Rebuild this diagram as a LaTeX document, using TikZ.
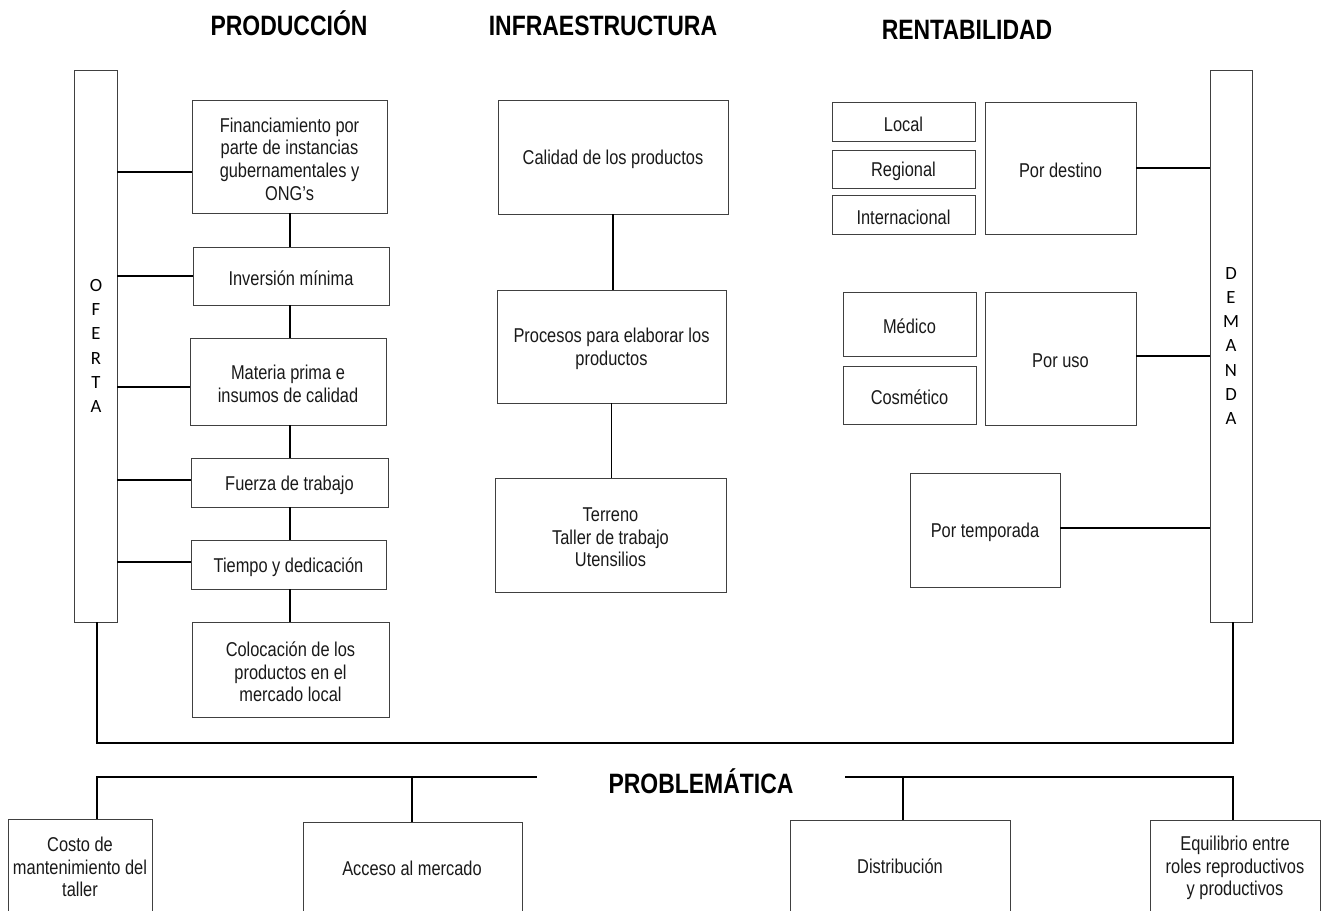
\documentclass[tikz,border=0pt]{standalone}
\usepackage{fontspec}
\setmainfont{Liberation Sans}[FakeStretch=0.82]
\newfontfamily\calib{Carlito}
\usetikzlibrary{calc}
\newcommand\bx[6]{\node[box,minimum width={(#4-#2)*0.75pt},minimum height={(#5-#3)*0.75pt}]
  (#1) at ({(#2+#4)/2},{(#3+#5)/2}) {};
  \node[txt,yshift=-1.8pt] (#1t) at (#1.center) {#6};}
\begin{document}
\begin{tikzpicture}[x=0.75pt,y=-0.75pt,
  box/.style={draw=black!75,line width=0.6pt,inner sep=0pt},
  txt/.style={inner sep=0pt,align=center,font=\fontsize{15}{17}\selectfont,text=black!90},
  conn/.style={draw=black,line width=1.4pt},
  ttl/.style={font=\fontsize{21}{24}\selectfont\bfseries,inner sep=0pt,anchor=base},
  vert/.style={font=\calib\fontsize{14}{18.2}\selectfont,align=center,inner sep=0pt}]
\useasboundingbox (0,0) rectangle (1322,911);
\clip (0,0) rectangle (1322,911);
% titles
\node[ttl] (tprod) at (289,35) {PRODUCCIÓN};
\node[ttl] (tinf) at (603,35) {INFRAESTRUCTURA};
\node[ttl] (tren) at (967,39) {RENTABILIDAD};
% side bars
\bx{of}{74}{70}{117}{622}{}
\node[vert] (oft) at (96,346) {O\\F\\E\\R\\T\\A};
\bx{dem}{1210}{70}{1252}{622}{}
\node[vert] (demt) at (1231,346) {D\\E\\M\\A\\N\\D\\A};
% production
\bx{fin}{192}{100}{387}{213}{Financiamiento por\\parte de instancias\\gubernamentales y\\ONG’s}
\bx{inv}{193}{247}{389}{305}{Inversión mínima}
\bx{mat}{190}{338}{386}{425}{Materia prima e\\insumos de calidad}
\bx{fue}{191}{458}{388}{507}{Fuerza de trabajo}
\bx{tie}{191}{540}{386}{589}{Tiempo y dedicación}
\bx{col}{192}{622}{389}{717}{Colocación de los\\productos en el\\mercado local}
\coordinate (pv) at (290,0);
\draw[conn] (fin.south -| pv) -- (inv.north -| pv);
\draw[conn] (inv.south -| pv) -- (mat.north -| pv);
\draw[conn] (mat.south -| pv) -- (fue.north -| pv);
\draw[conn] (fue.south -| pv) -- (tie.north -| pv);
\draw[conn] (tie.south -| pv) -- (col.north -| pv);
\draw[conn] (of.east |- {0,172}) -- (fin.west |- {0,172});
\draw[conn] (of.east |- {0,276}) -- (inv.west |- {0,276});
\draw[conn] (of.east |- {0,387}) -- (mat.west |- {0,387});
\draw[conn] (of.east |- {0,480}) -- (fue.west |- {0,480});
\draw[conn] (of.east |- {0,562}) -- (tie.west |- {0,562});
% infrastructure
\bx{cal}{498}{100}{728}{214}{Calidad de los productos}
\bx{pro}{497}{290}{726}{403}{Procesos para elaborar los\\productos}
\bx{ter}{495}{478}{726}{592}{Terreno\\Taller de trabajo\\Utensilios}
\draw[conn] (cal.south) -- (cal.south |- pro.north);
\draw[conn] (pro.south) -- (pro.south |- ter.north);
% rentabilidad
\bx{loc}{832}{102}{975}{141}{Local}
\bx{reg}{832}{150}{975}{188}{Regional}
\bx{int}{832}{195}{975}{234}{Internacional}
\bx{des}{985}{102}{1136}{234}{Por destino}
\bx{med}{843}{292}{976}{356}{Médico}
\bx{cos}{843}{366}{976}{424}{Cosmético}
\bx{uso}{985}{292}{1136}{425}{Por uso}
\bx{tem}{910}{473}{1060}{587}{Por temporada}
\draw[conn] (des.east) -- (des.east -| dem.west);
\draw[conn] (uso.east |- {0,356}) -- (dem.west |- {0,356});
\draw[conn] (tem.east |- {0,528}) -- (dem.west |- {0,528});
% bottom frame
\coordinate (bl) at (97,743);
\coordinate (br) at (1233,743);
\draw[conn] (of.south -| bl) -- (bl) -- (br) -- (dem.south -| br);
% problematica
\node[ttl] (prob) at (701,793) {PROBLEMÁTICA};
\bx{cst}{8}{819}{152}{935}{}
\node[txt] (cstt) at (80,867) {Costo de\\mantenimiento del\\taller};
\bx{acc}{303}{822}{522}{935}{}
\node[txt] (acct) at (412,868) {Acceso al mercado};
\bx{dis}{790}{820}{1010}{935}{}
\node[txt] (dist) at (900,866) {Distribución};
\bx{equ}{1150}{820}{1320}{935}{}
\node[txt] (equt) at (1235,868) {Equilibrio entre\\roles reproductivos\\y productivos};
\coordinate (pl) at (537,777);
\coordinate (pr) at (845,777);
\coordinate (p1) at (97,777);
\coordinate (p2) at (412,777);
\coordinate (p3) at (903,777);
\coordinate (p4) at (1233,777);
\draw[conn] (cst.north -| p1) -- (p1) -- (pl);
\draw[conn] (p2) -- (acc.north -| p2);
\draw[conn] (pr) -- (p4) -- (equ.north -| p4);
\draw[conn] (p3) -- (dis.north -| p3);
\end{tikzpicture}
\end{document}
